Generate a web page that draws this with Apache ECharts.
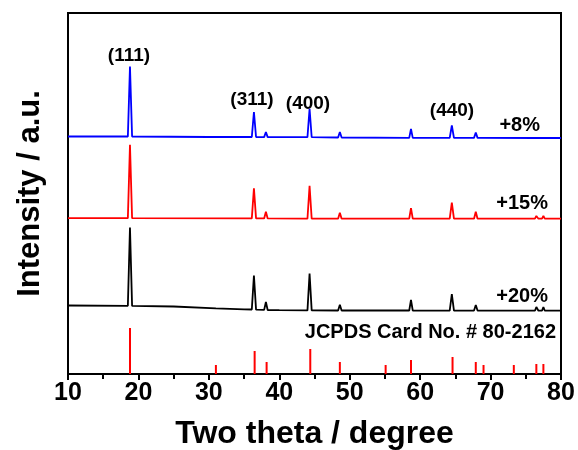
<!DOCTYPE html>
<html>
<head>
<meta charset="utf-8">
<script src="https://cdn.jsdelivr.net/npm/echarts@6/dist/echarts.min.js"></script>
<style>
  html, body { margin: 0; padding: 0; background: #fff; }
  #main { width: 578px; height: 450px; }
</style>
</head>
<body>
<div id="main"></div>
<script>
var chartDom = document.getElementById('main')
var myChart = echarts.init(chartDom)
var font = "'Liberation Sans', Arial, sans-serif"

// measured patterns: [2theta, intensity above own baseline] (a.u.)
var pattern8 = [
  [10, 1], [18.5, 1], [18.8, 71], [19.1, 1], [30, 0.5],
  [36.1, 0.5], [36.4, 25.5], [36.7, 0.5], [37.85, 0.4], [38.1, 5.5], [38.35, 0.4],
  [44.0, 0.3], [44.3, 28.8], [44.6, 0.3], [48.35, 0], [48.6, 5.5], [48.85, 0],
  [58.45, -0.3], [58.7, 8.7], [58.95, -0.3], [64.2, -0.3], [64.5, 12], [64.8, -0.3],
  [67.65, -0.4], [67.9, 5], [68.15, -0.4], [76.3, -0.5], [76.5, 1.5], [76.8, -0.5],
  [77.3, -0.5], [77.5, 1.5], [77.7, -0.5], [80, -0.5]
]
var pattern15 = [
  [10, 0.5], [18.5, 0.5], [18.8, 74], [19.1, 0.5],
  [36.1, 0.3], [36.4, 30.5], [36.7, 0.3], [37.85, 0.3], [38.1, 7], [38.35, 0.3],
  [44.0, 0], [44.3, 33], [44.6, 0], [48.35, 0], [48.6, 6], [48.85, 0],
  [58.45, 0], [58.7, 10.5], [58.95, 0], [64.2, 0], [64.5, 16], [64.8, 0],
  [67.65, 0], [67.9, 7], [68.15, 0], [76.3, 0], [76.5, 2.7], [76.8, 0],
  [77.3, 0], [77.5, 2.7], [77.7, 0], [80, 0]
]
var pattern20 = [
  [10, 5], [18.5, 4.7], [18.8, 83], [19.1, 4.6], [25, 4], [31, 2.2], [35, 1.2],
  [36.1, 1], [36.4, 35], [36.7, 0.9], [37.85, 0.6], [38.1, 8.5], [38.35, 0.5], [40, 0.3],
  [44.0, 0.1], [44.3, 37], [44.6, 0.1], [48.35, 0], [48.6, 5.8], [48.85, 0],
  [58.45, 0], [58.7, 10.5], [58.95, 0], [64.2, -0.1], [64.5, 16.5], [64.8, -0.1],
  [67.65, -0.1], [67.9, 5.5], [68.15, -0.1], [76.3, -0.2], [76.5, 3.5], [76.8, -0.2],
  [77.3, -0.2], [77.5, 3.5], [77.7, -0.2], [80, -0.2]
]

// JCPDS 80-2162 reference lines
var jcpdsAngles = [18.8, 31.0, 36.5, 38.2, 44.4, 48.6, 55.1, 58.7, 64.6, 67.9, 69.0, 73.3, 76.5, 77.5]
var jcpdsHeights = [46, 9, 23, 12, 25, 12, 9, 14, 17, 12, 9, 9, 10, 10]

// vertical stacking of the patterns
var samples = [
  { name: '+8%', data: pattern8, offset: 236.5, color: '#0000ff' },
  { name: '+15%', data: pattern15, offset: 155.3, color: '#ff0000' },
  { name: '+20%', data: pattern20, offset: 63.5, color: '#000000' }
]

var lineSeries = samples.map(s => ({
  name: s.name,
  type: 'line',
  symbol: 'none',
  lineStyle: { color: s.color, width: 1.8 },
  data: s.data.map(p => [p[0], p[1] + s.offset])
}))

var barSeries = {
  name: 'JCPDS',
  type: 'bar',
  barWidth: 2,
  itemStyle: { color: '#ff0000' },
  data: jcpdsAngles.map((a, i) => [a, jcpdsHeights[i]])
}

var txt = (text, x, y, align, size) => ({
  type: 'text',
  x: x,
  y: y,
  style: {
    text: text,
    fill: '#000',
    font: 'bold ' + size + 'px ' + font,
    textAlign: align,
    textVerticalAlign: 'middle'
  }
})

var option = {
  animation: false,
  backgroundColor: '#fff',
  grid: {
    left: 68, right: 17, top: 13, bottom: 76,
    show: true, borderColor: '#000', borderWidth: 2,
    outerBoundsMode: 'none'
  },
  xAxis: {
    type: 'value',
    min: 10, max: 80, interval: 10,
    name: 'Two theta / degree',
    nameLocation: 'middle',
    nameGap: 44,
    nameTextStyle: { fontSize: 32, fontWeight: 'bold', color: '#000', fontFamily: font },
    axisLine: { lineStyle: { color: '#000', width: 2 } },
    axisTick: { length: 6, lineStyle: { color: '#000', width: 2 } },
    minorTick: { show: true, splitNumber: 2, length: 5, lineStyle: { color: '#000', width: 2 } },
    axisLabel: { fontSize: 25, fontWeight: 'bold', color: '#000', fontFamily: font, margin: 7, showMinLabel: true, showMaxLabel: true },
    splitLine: { show: false }
  },
  yAxis: {
    type: 'value',
    min: 0, max: 361,
    name: 'Intensity / a.u.',
    nameLocation: 'middle',
    nameGap: 22,
    nameTextStyle: { fontSize: 31, fontWeight: 'bold', color: '#000', fontFamily: font },
    axisLine: { show: true, lineStyle: { color: '#000', width: 2 } },
    axisTick: { show: false },
    axisLabel: { show: false },
    splitLine: { show: false }
  },
  graphic: [
    txt('(111)', 129, 56, 'center', 19),
    txt('(311)', 252, 100, 'center', 19),
    txt('(400)', 308, 104, 'center', 19),
    txt('(440)', 452, 111, 'center', 19),
    txt('+8%', 540, 125, 'right', 20),
    txt('+15%', 548, 203, 'right', 20),
    txt('+20%', 548, 296, 'right', 20),
    txt('JCPDS Card No. # 80-2162', 556, 332, 'right', 20)
  ],
  series: lineSeries.concat([barSeries])
}

option && myChart.setOption(option)
</script>
</body>
</html>
